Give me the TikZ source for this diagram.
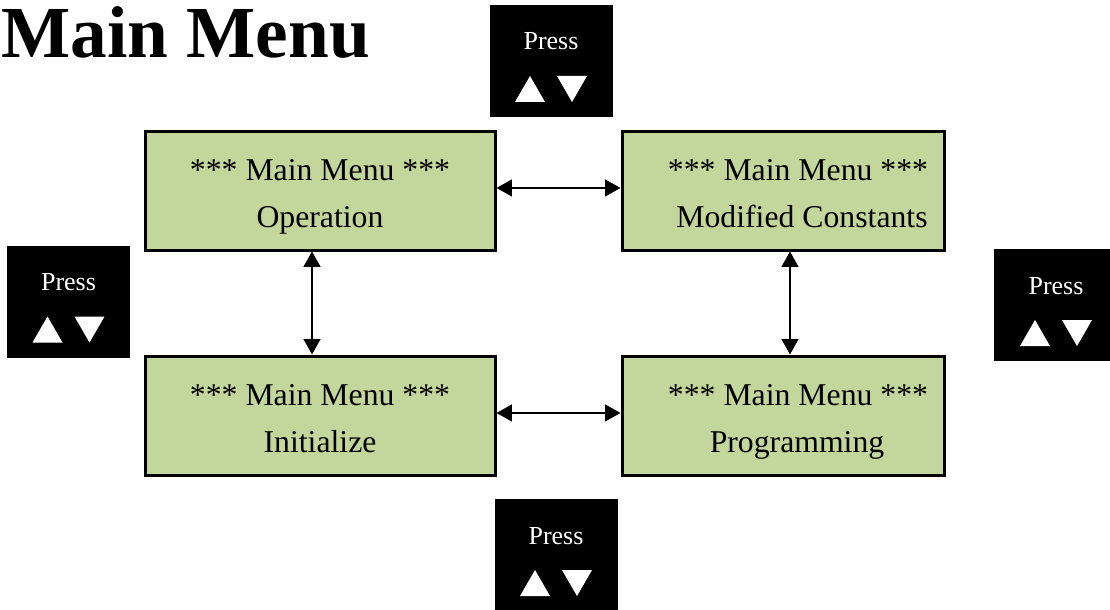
\documentclass[tikz,border=0pt]{standalone}
\usepackage{fontspec}
\setmainfont{Liberation Serif}
\usetikzlibrary{arrows.meta}
\definecolor{menugreen}{HTML}{C3D69B}
\begin{document}
\begin{tikzpicture}[x=0.75pt,y=-0.75pt,
  menubox/.style={draw=black, line width=2.25pt, fill=menugreen, inner sep=0pt, minimum height=89.25pt},
  menutext/.style={anchor=base, inner sep=0pt, font=\fontsize{23.8}{28}\selectfont},
  pressbox/.style={fill=black, inner sep=0pt, minimum width=92.25pt, minimum height=84pt},
  presstext/.style={anchor=base, inner sep=0pt, text=white, font=\fontsize{19.5}{23}\selectfont},
  link/.style={line width=1.5pt, {Triangle[length=11.5pt,width=12.5pt]}-{Triangle[length=11.5pt,width=12.5pt]}}
]
\useasboundingbox (0,0) rectangle (1110,610);

% title
\node[anchor=base west, inner sep=0pt, font=\fontsize{55}{60}\selectfont\bfseries] (title) at (1,58) {Main Menu};

% menu boxes
\node[menubox, minimum width=262.5pt] (tl) at (320,190.5) {};
\node[menubox, minimum width=241.5pt] (tr) at (783,190.5) {};
\node[menubox, minimum width=262.5pt] (bl) at (320,415.5) {};
\node[menubox, minimum width=241.5pt] (br) at (783,415.5) {};

\node[menutext] (tl1) at (320,180) {*** Main Menu ***};
\node[menutext] (tl2) at (320,227) {Operation};
\node[menutext] (tr1) at (798,180) {*** Main Menu ***};
\node[menutext] (tr2) at (802,227) {Modified Constants};
\node[menutext] (bl1) at (320,405) {*** Main Menu ***};
\node[menutext] (bl2) at (320,452) {Initialize};
\node[menutext] (br1) at (798,405) {*** Main Menu ***};
\node[menutext] (br2) at (797,452) {Programming};

% connectors
\draw[link] ([yshift=1.9pt]tl.east) -- ([yshift=1.9pt]tr.west);
\draw[link] ([yshift=1.9pt]bl.east) -- ([yshift=1.9pt]br.west);
\draw[link] ([xshift=-6pt]tl.south) -- ([xshift=-6pt]bl.north);
\draw[link] ([xshift=5.25pt]tr.south) -- ([xshift=5.25pt]br.north);

% press boxes
\foreach \nm/\cx/\cy/\tx in {pt/551/61/551, pl/68.5/301.5/68.5, pr/1055/305/1056, pb/556/555/556}{
  \node[pressbox] (\nm) at (\cx,\cy) {};
  \node[presstext] (\nm text) at (\tx,\cy-11) {Press};
  \fill[white] (\tx-36,\cy+41) -- (\tx-6,\cy+41) -- (\tx-21,\cy+15) -- cycle;
  \fill[white] (\tx+6,\cy+15) -- (\tx+36,\cy+15) -- (\tx+21,\cy+41) -- cycle;
}
\end{tikzpicture}
\end{document}
